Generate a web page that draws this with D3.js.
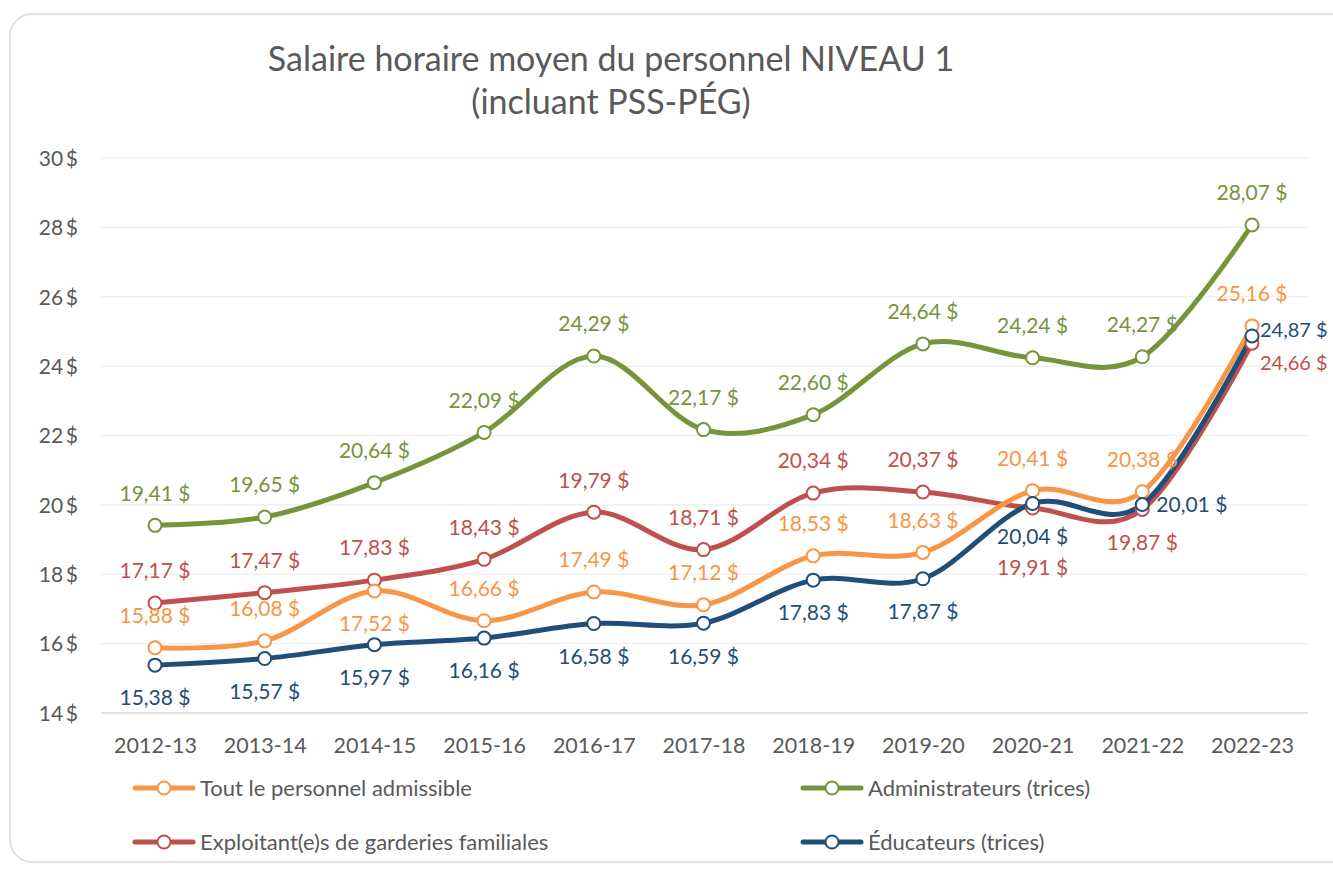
<!DOCTYPE html>
<html><head><meta charset="utf-8">
<script src="https://cdn.jsdelivr.net/npm/d3@7"></script>
<style>body{margin:0;background:#fff;} svg{display:block;font-family:Lato,"Open Sans",sans-serif;}</style>
</head><body><svg id="c" width="1333" height="869"></svg>
<script>
const categories = ["2012-13","2013-14","2014-15","2015-16","2016-17","2017-18","2018-19","2019-20","2020-21","2021-22","2022-23"];
const seriesNames = ["Tout le personnel admissible","Administrateurs (trices)","Exploitant(e)s de garderies familiales","Éducateurs (trices)"];
const toutValues = [15.88,16.08,17.52,16.66,17.49,17.12,18.53,18.63,20.41,20.38,25.16];
const adminValues = [19.41,19.65,20.64,22.09,24.29,22.17,22.60,24.64,24.24,24.27,28.07];
const exploitValues = [17.17,17.47,17.83,18.43,19.79,18.71,20.34,20.37,19.91,19.87,24.66];
const educValues = [15.38,15.57,15.97,16.16,16.58,16.59,17.83,17.87,20.04,20.01,24.87];
const yTicks = [14,16,18,20,22,24,26,28,30];
// label placement: a=above, b=below, bb=further below, r=right, rd=right-down, ru=right-up
const toutPlace = ["a","a","b","a","a","a","a","a","a","a","a"];
const adminPlace = ["a","a","a","a","a","a","a","a","a","a","a"];
const exploitPlace = ["a","a","a","a","a","a","a","a","bb","b","rd"];
const educPlace = ["b","b","b","b","b","b","b","b","b","r","ru"];
const colors = ["#F79646","#77933C","#C0504D","#1F4E79"];

const svg = d3.select("#c");
svg.append("rect").attr("x",10).attr("y",14).attr("width",1360).attr("height",848)
  .attr("rx",22).attr("fill","#fff").attr("stroke","#d9d9d9").attr("stroke-width",1.5);

const x = d3.scalePoint().domain(categories).range([155,1252]);
const y = d3.scaleLinear().domain([14,30]).range([713,158]);

svg.append("text").attr("x",611).attr("y",71).attr("text-anchor","middle")
  .attr("fill","#595959").attr("font-size",34).text("Salaire horaire moyen du personnel NIVEAU 1");
svg.append("text").attr("x",611).attr("y",114).attr("text-anchor","middle")
  .attr("fill","#595959").attr("font-size",34).text("(incluant PSS-PÉG)");

const grid = svg.append("g");
yTicks.forEach(t=>{
  grid.append("line").attr("x1",101).attr("x2",1308).attr("y1",y(t)).attr("y2",y(t))
    .attr("stroke", t===14 ? "#d9d9d9" : "#ececec").attr("stroke-width", t===14?1.5:1.2);
});
const yAxis = d3.axisLeft(y).tickValues(yTicks).tickSize(0).tickPadding(0).tickFormat(d=>d+"\u2009$");
const ya = svg.append("g").attr("transform","translate(78,0)").call(yAxis);
ya.select(".domain").remove();
ya.selectAll("text").attr("fill","#595959").attr("font-size",21).attr("font-family","Lato,sans-serif").attr("dy","0.35em");

const xAxis = d3.axisBottom(x).tickSize(0).tickPadding(0);
const xa = svg.append("g").attr("transform","translate(0,745)").call(xAxis);
xa.select(".domain").remove();
xa.selectAll("text").attr("fill","#595959").attr("font-size",21.5).attr("font-family","Lato,sans-serif").attr("dy","0.35em");

const all = [toutValues,adminValues,exploitValues,educValues];
const places = [toutPlace,adminPlace,exploitPlace,educPlace];
const line = d3.line().x((d,i)=>x(categories[i])).y(d=>y(d)).curve(d3.curveCardinal.tension(0));
const fmt = v => v.toFixed(2).replace(".",",")+" $";

[2,0,1,3].forEach(s=>{
  svg.append("path").datum(all[s]).attr("d",line).attr("fill","none")
    .attr("stroke",colors[s]).attr("stroke-width",5).attr("stroke-linecap","round");
});
[2,0,1,3].forEach(s=>{
  svg.append("g").selectAll("circle").data(all[s]).join("circle")
    .attr("cx",(d,i)=>x(categories[i])).attr("cy",d=>y(d)).attr("r",6.5)
    .attr("fill","#fff").attr("stroke",colors[s]).attr("stroke-width",2);
});
const dyOf = {a:-32, b:33, bb:60, r:0, rd:20, ru:-6};
const dxOf = {r:14, rd:8, ru:8};
[0,1,2,3].forEach(s=>{
  svg.append("g").selectAll("text").data(all[s]).join("text")
    .attr("x",(d,i)=> places[s][i][0]==="r" ? x(categories[i])+dxOf[places[s][i]] : x(categories[i]))
    .attr("y",(d,i)=> y(d)+dyOf[places[s][i]])
    .attr("dy","0.35em")
    .attr("text-anchor",(d,i)=> places[s][i][0]==="r" ? "start":"middle")
    .attr("fill",colors[s]).attr("font-size",(d,i)=> places[s][i]==="r" || places[s][i][0]!=="r" ? 21 : 20).text(d=>fmt(d));
});

const legPos = [[135,788],[803,788],[135,842],[803,842]];
legPos.forEach((p,s)=>{
  const g = svg.append("g").attr("transform",`translate(${p[0]},${p[1]})`);
  g.append("line").attr("x1",0).attr("x2",58).attr("y1",0).attr("y2",0)
    .attr("stroke",colors[s]).attr("stroke-width",5).attr("stroke-linecap","round");
  g.append("circle").attr("cx",29).attr("cy",0).attr("r",6.5).attr("fill","#fff")
    .attr("stroke",colors[s]).attr("stroke-width",2);
  g.append("text").attr("x",65).attr("y",0).attr("dy","0.35em").attr("fill","#595959")
    .attr("font-size",22).text(seriesNames[s]);
});
</script></body></html>
